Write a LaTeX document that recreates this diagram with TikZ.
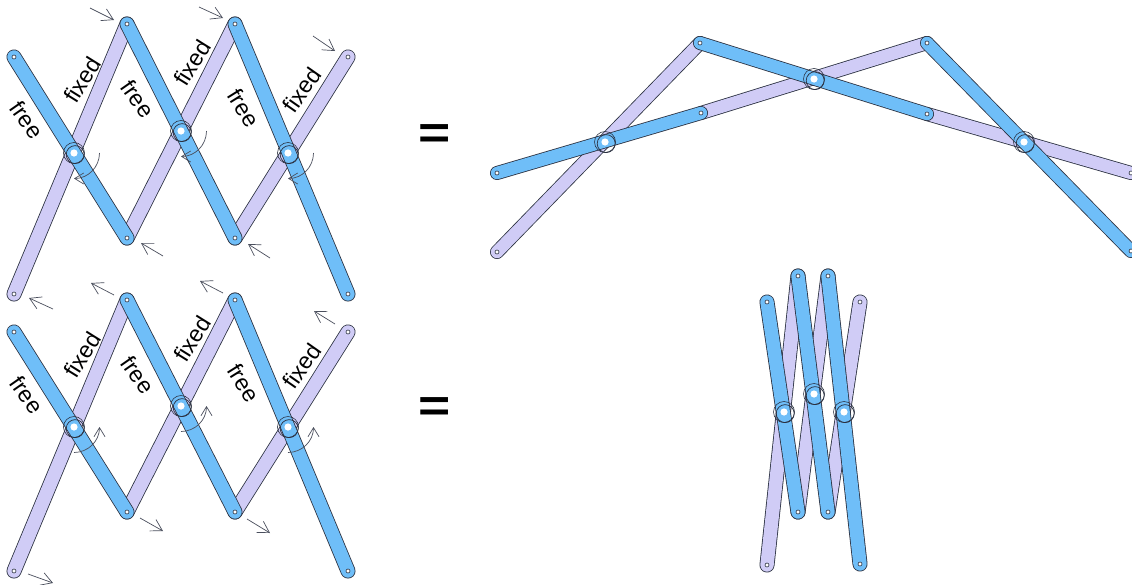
\documentclass[tikz,border=0pt]{standalone}
\usepackage{fontspec}
\setmainfont{Liberation Sans}
\usetikzlibrary{arrows.meta}
\definecolor{linkblue}{HTML}{6FBEF8}
\definecolor{linkpurple}{HTML}{D0CCF6}
\definecolor{ink}{HTML}{2A3040}
\tikzset{
  barb/.style={draw=ink!85,line width=0.7pt,-{Straight Barb[length=11pt,width=13pt,line width=0.7pt]}},
  turn/.style={draw=ink!85,line width=0.7pt,-{Straight Barb[length=9pt,width=11pt,line width=0.7pt]}},
  lab/.style={font=\fontsize{23}{23}\selectfont,text=black,inner sep=0pt},
  eqsign/.style={inner sep=0pt,font=\fontsize{46}{46}\selectfont\bfseries},
}
\newcommand\linkbar[4]{%
  \draw[ink,line width=#4pt,line cap=round] (#2) -- (#3);
  \draw[#1,line width=#4pt-1.6pt,line cap=round] (#2) -- (#3);
}
\newcommand\pinend[1]{\draw[fill=white,draw=ink,line width=0.6pt] (#1) circle[radius=2];}
\newcommand\pivotring[2]{%
  \draw[ink,line width=0.6pt] (#1) circle[radius=#2];
  \draw[ink,line width=0.7pt] ([xshift=1.2pt,yshift=-1.6pt]#1) circle[radius=#2-1.5];
  \fill[white] (#1) circle[radius=3.6];
}
\begin{document}
\begin{tikzpicture}[x=1pt,y=-1pt]
\useasboundingbox (0,0) rectangle (1132,584);
\fill[white] (0,0) rectangle (1132,584);
\clip (0,0) rectangle (1132,584);

% ---- upper left
\coordinate (aT1) at (14,57);  \coordinate (aT2) at (127,24);  \coordinate (aT3) at (235,24);  \coordinate (aT4) at (348,57);
\coordinate (aB1) at (14,294); \coordinate (aB2) at (127,238); \coordinate (aB3) at (235,238); \coordinate (aB4) at (348,294);
\coordinate (aP1) at (74,153); \coordinate (aP2) at (181,131); \coordinate (aP3) at (288,153);
\linkbar{linkpurple}{aB1}{aT2}{15}
\linkbar{linkpurple}{aB2}{aT3}{15}
\linkbar{linkpurple}{aB3}{aT4}{15}
\linkbar{linkblue}{aT1}{aB2}{15}
\linkbar{linkblue}{aT2}{aB3}{15}
\linkbar{linkblue}{aT3}{aB4}{15}
\foreach \p in {aT1,aT2,aT3,aT4,aB1,aB2,aB3,aB4} {\pinend{\p}}
\foreach \p in {aP1,aP2,aP3} {\pivotring{\p}{10.5}}

% ---- lower left
\coordinate (bT1) at (14,332); \coordinate (bT2) at (127,300); \coordinate (bT3) at (235,300); \coordinate (bT4) at (348,332);
\coordinate (bB1) at (14,571); \coordinate (bB2) at (127,512); \coordinate (bB3) at (235,512); \coordinate (bB4) at (348,571);
\coordinate (bP1) at (74,427); \coordinate (bP2) at (181,406); \coordinate (bP3) at (288,427);
\linkbar{linkpurple}{bB1}{bT2}{15}
\linkbar{linkpurple}{bB2}{bT3}{15}
\linkbar{linkpurple}{bB3}{bT4}{15}
\linkbar{linkblue}{bT1}{bB2}{15}
\linkbar{linkblue}{bT2}{bB3}{15}
\linkbar{linkblue}{bT3}{bB4}{15}
\foreach \p in {bT1,bT2,bT3,bT4,bB1,bB2,bB3,bB4} {\pinend{\p}}
\foreach \p in {bP1,bP2,bP3} {\pivotring{\p}{10.5}}

% ---- upper right
\coordinate (cA) at (497,173); \coordinate (cB) at (701,113); \coordinate (cC) at (497,252); \coordinate (cD) at (700,43);
\coordinate (cE) at (927,114); \coordinate (cF) at (927,43); \coordinate (cG) at (1131,173); \coordinate (cH) at (1131,251);
\coordinate (cP1) at (605,142); \coordinate (cP2) at (814,79); \coordinate (cP3) at (1024,142);
\linkbar{linkpurple}{cC}{cD}{14}
\linkbar{linkpurple}{cB}{cF}{14}
\linkbar{linkpurple}{cE}{cG}{14}
\linkbar{linkblue}{cA}{cB}{14}
\linkbar{linkblue}{cD}{cE}{14}
\linkbar{linkblue}{cF}{cH}{14}
\foreach \p in {cA,cB,cC,cD,cE,cF,cG,cH} {\pinend{\p}}
\foreach \p in {cP1,cP2,cP3} {\pivotring{\p}{10.5}}

% ---- lower right
\coordinate (dT1) at (767,302); \coordinate (dT2) at (798,276); \coordinate (dT3) at (828,276); \coordinate (dT4) at (860,302);
\coordinate (dB1) at (767,565); \coordinate (dB2) at (798,512); \coordinate (dB3) at (828,512); \coordinate (dB4) at (860,564);
\coordinate (dP1) at (784,412); \coordinate (dP2) at (814,394); \coordinate (dP3) at (844,412);
\linkbar{linkpurple}{dB1}{dT2}{15}
\linkbar{linkpurple}{dB2}{dT3}{15}
\linkbar{linkpurple}{dB3}{dT4}{15}
\linkbar{linkblue}{dT1}{dB2}{15}
\linkbar{linkblue}{dT2}{dB3}{15}
\linkbar{linkblue}{dT3}{dB4}{15}
\foreach \p in {dT1,dT2,dT3,dT4,dB1,dB2,dB3,dB4} {\pinend{\p}}
\foreach \p in {dP1,dP2,dP3} {\pivotring{\p}{10.5}}

% ---- equals
\node[eqsign] (eqA) at (435,137) {\scalebox{1.2}[1]{=}};
\node[eqsign] (eqB) at (435,410) {\scalebox{1.2}[1]{=}};

% ---- labels
\node[lab,rotate=-55] (l1) at (27,120) {free};
\node[lab,rotate=58]  (l2) at (82,80) {fixed};
\node[lab,rotate=-55] (l3) at (138,99) {free};
\node[lab,rotate=58]  (l4) at (192,63) {fixed};
\node[lab,rotate=-58] (l5) at (244,108) {free};
\node[lab,rotate=55]  (l6) at (302,90) {fixed};
\node[lab,rotate=-55] (l7) at (27,395) {free};
\node[lab,rotate=58]  (l8) at (82,355) {fixed};
\node[lab,rotate=-55] (l9) at (138,375) {free};
\node[lab,rotate=58]  (l10) at (192,339) {fixed};
\node[lab,rotate=-58] (l11) at (244,383) {free};
\node[lab,rotate=55]  (l12) at (302,366) {fixed};

% ---- straight arrows
\foreach \x/\y/\u/\v [count=\i] in {
  90/8/114/20, 199/7/223/18, 313/36/335/51,
  163/256/141/243, 270/258/248/244, 53/309/29/298,
  114/295/91/283, 223/293/200/281,
  335/324/314/311, 140/518/163/531, 247/519/270/533, 28/574/53/583} {
  \coordinate (s\i) at (\x,\y);
  \coordinate (e\i) at (\u,\v);
  \draw[barb] (s\i) -- (e\i);
}

% ---- turning arrows
\foreach \p in {aP1,aP2,aP3} {
  \draw[turn] ([xshift=25.5pt]\p) arc[start angle=0,end angle=90,radius=25.5];
}
\foreach \p in {bP1,bP2,bP3} {
  \draw[turn] ([yshift=-25.5pt]\p) arc[start angle=90,end angle=0,radius=25.5];
}
\end{tikzpicture}
\end{document}
